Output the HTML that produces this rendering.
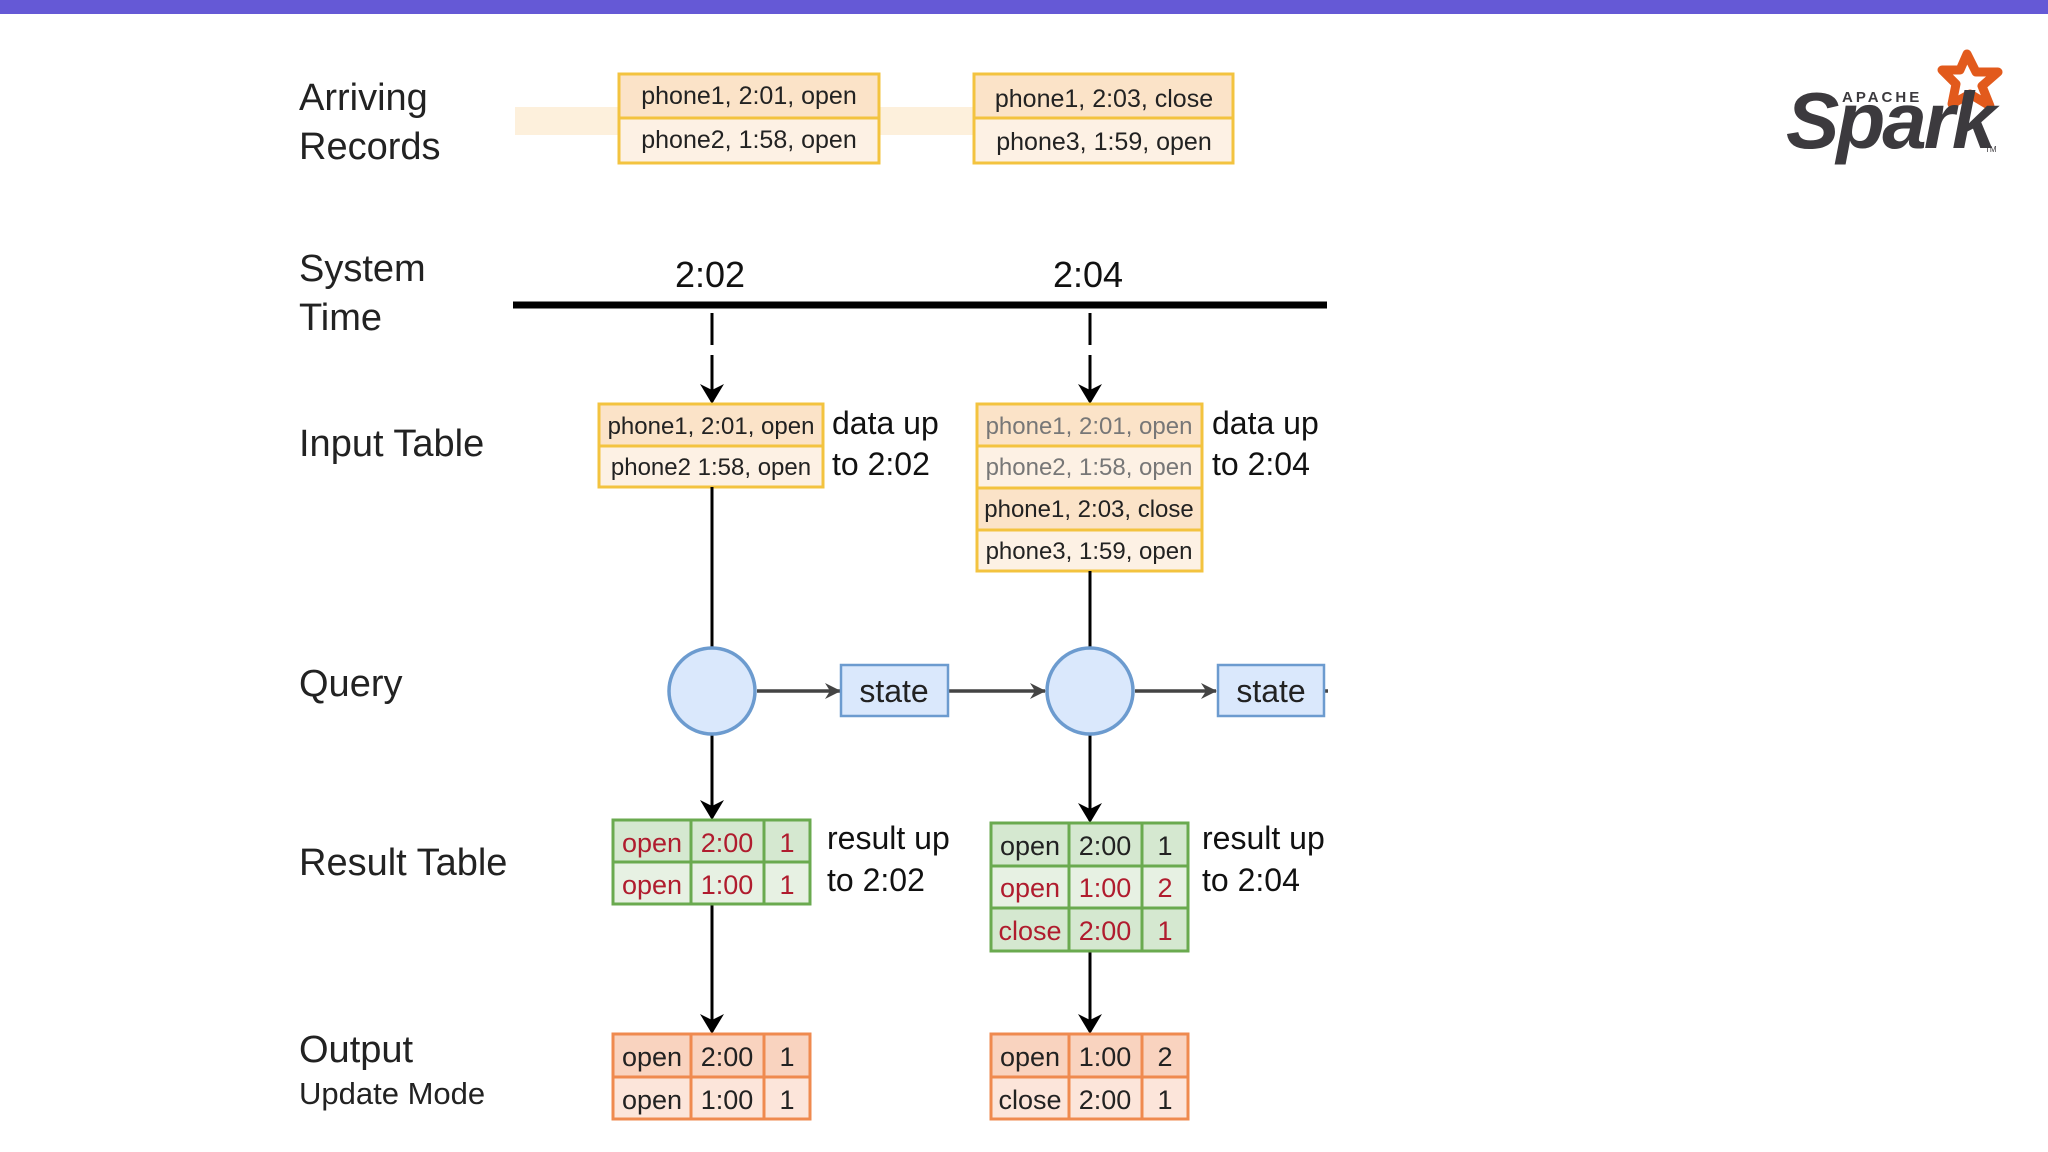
<!DOCTYPE html>
<html><head><meta charset="utf-8"><style>
html,body{margin:0;padding:0;background:#fff;}
svg{display:block}
text{font-family:"Liberation Sans",sans-serif;}
</style></head><body>
<svg width="2048" height="1152" viewBox="0 0 2048 1152" xmlns="http://www.w3.org/2000/svg">
<defs>
<marker id="ah" viewBox="0 0 20 24" refX="18" refY="12" markerWidth="20" markerHeight="24" markerUnits="userSpaceOnUse" orient="auto">
<path d="M0,0 L20,12 L0,24 L6,12 Z" fill="#000"/></marker>
<marker id="ag" viewBox="0 0 16 16" refX="15" refY="8" markerWidth="16" markerHeight="16" markerUnits="userSpaceOnUse" orient="auto">
<path d="M0,0 L16,8 L0,16 L5,8 Z" fill="#444"/></marker>
</defs>
<rect x="0" y="0" width="2048" height="14" fill="#6559d6"/>

<!-- labels -->
<g font-size="38" fill="#222">
<text x="299" y="110">Arriving</text>
<text x="299" y="159">Records</text>
<text x="299" y="281">System</text>
<text x="299" y="330">Time</text>
<text x="299" y="456">Input Table</text>
<text x="299" y="696">Query</text>
<text x="299" y="875">Result Table</text>
<text x="299" y="1062">Output</text>
</g>
<text x="299" y="1104" font-size="31" fill="#222">Update Mode</text>

<!-- arriving records -->
<rect x="515" y="107" width="104" height="28" fill="#fdf0dc"/>
<rect x="879" y="107" width="95" height="28" fill="#fdf0dc"/>
<g stroke="#f3c33f" stroke-width="3">
<rect x="619" y="74" width="260" height="44" fill="#fbe3c8"/>
<rect x="619" y="118" width="260" height="45" fill="#fdf1e4"/>
<rect x="974" y="74" width="259" height="44" fill="#fbe3c8"/>
<rect x="974" y="118" width="259" height="45" fill="#fdf1e4"/>
</g>
<g font-size="25" fill="#222" text-anchor="middle">
<text x="749" y="104">phone1, 2:01, open</text>
<text x="749" y="148">phone2, 1:58, open</text>
<text x="1104" y="107">phone1, 2:03, close</text>
<text x="1104" y="150">phone3, 1:59, open</text>
</g>

<!-- system time -->
<g font-size="36" fill="#111" text-anchor="middle">
<text x="710" y="287">2:02</text>
<text x="1088" y="287">2:04</text>
</g>
<line x1="513" y1="305" x2="1327" y2="305" stroke="#000" stroke-width="7"/>
<g stroke="#000" stroke-width="3">
<line x1="712" y1="313" x2="712" y2="345"/>
<line x1="712" y1="355" x2="712" y2="402" marker-end="url(#ah)"/>
<line x1="1090" y1="313" x2="1090" y2="345"/>
<line x1="1090" y1="355" x2="1090" y2="402" marker-end="url(#ah)"/>
</g>

<!-- input tables -->
<g stroke="#f3c33f" stroke-width="3">
<rect x="599" y="404" width="224" height="42" fill="#fbe3c8"/>
<rect x="599" y="446" width="224" height="41" fill="#fdf1e4"/>
<rect x="977" y="404" width="225" height="42" fill="#fbe3c8"/>
<rect x="977" y="446" width="225" height="42" fill="#fdf1e4"/>
<rect x="977" y="488" width="225" height="42" fill="#fbe3c8"/>
<rect x="977" y="530" width="225" height="41" fill="#fdf1e4"/>
</g>
<g font-size="24" text-anchor="middle">
<text x="711" y="434" fill="#222">phone1, 2:01, open</text>
<text x="711" y="475" fill="#222">phone2 1:58, open</text>
<text x="1089" y="434" fill="#777">phone1, 2:01, open</text>
<text x="1089" y="475" fill="#777">phone2, 1:58, open</text>
<text x="1089" y="517" fill="#222">phone1, 2:03, close</text>
<text x="1089" y="559" fill="#222">phone3, 1:59, open</text>
</g>
<g font-size="32" fill="#111">
<text x="832" y="434">data up</text>
<text x="832" y="475">to 2:02</text>
<text x="1212" y="434">data up</text>
<text x="1212" y="475">to 2:04</text>
<text x="827" y="849">result up</text>
<text x="827" y="891">to 2:02</text>
<text x="1202" y="849">result up</text>
<text x="1202" y="891">to 2:04</text>
</g>

<!-- query -->
<g stroke="#000" stroke-width="3">
<line x1="712" y1="487" x2="712" y2="648"/>
<line x1="1090" y1="571" x2="1090" y2="648"/>
<line x1="712" y1="734" x2="712" y2="818" marker-end="url(#ah)"/>
<line x1="1090" y1="734" x2="1090" y2="821" marker-end="url(#ah)"/>
<line x1="712" y1="904" x2="712" y2="1032" marker-end="url(#ah)"/>
<line x1="1090" y1="951" x2="1090" y2="1032" marker-end="url(#ah)"/>
</g>
<g fill="#dae8fc" stroke="#6c9bcf" stroke-width="3.5">
<ellipse cx="712" cy="691" rx="43" ry="43"/>
<ellipse cx="1090" cy="691" rx="43" ry="43"/>
</g>
<g stroke="#444" stroke-width="3.5">
<line x1="757" y1="691" x2="840" y2="691" marker-end="url(#ag)"/>
<line x1="949" y1="691" x2="1045" y2="691" marker-end="url(#ag)"/>
<line x1="1135" y1="691" x2="1216" y2="691" marker-end="url(#ag)"/>
<line x1="1325" y1="691" x2="1328" y2="691"/>
</g>
<g fill="#dae8fc" stroke="#6c9bcf" stroke-width="2.5">
<rect x="841" y="665" width="107" height="51"/>
<rect x="1218" y="665" width="106" height="51"/>
</g>
<g font-size="32" fill="#222" text-anchor="middle">
<text x="894" y="702">state</text>
<text x="1271" y="702">state</text>
</g>

<!-- result tables -->
<g stroke="#6aaa4f" stroke-width="3">
<rect x="613" y="820" width="197" height="42" fill="#d5e8d0"/>
<rect x="613" y="862" width="197" height="42" fill="#e7f1e3"/>
<line x1="691" y1="820" x2="691" y2="904"/><line x1="764" y1="820" x2="764" y2="904"/>
<rect x="991" y="823" width="197" height="43" fill="#d5e8d0"/>
<rect x="991" y="866" width="197" height="42" fill="#e7f1e3"/>
<rect x="991" y="908" width="197" height="43" fill="#d5e8d0"/>
<line x1="1069" y1="823" x2="1069" y2="951"/><line x1="1142" y1="823" x2="1142" y2="951"/>
</g>
<g font-size="27" text-anchor="middle" fill="#b01c2e">
<text x="652" y="852">open</text><text x="727" y="852">2:00</text><text x="787" y="852">1</text>
<text x="652" y="894">open</text><text x="727" y="894">1:00</text><text x="787" y="894">1</text>
<text x="1030" y="897">open</text><text x="1105" y="897">1:00</text><text x="1165" y="897">2</text>
<text x="1030" y="940">close</text><text x="1105" y="940">2:00</text><text x="1165" y="940">1</text>
</g>
<g font-size="27" text-anchor="middle" fill="#222">
<text x="1030" y="855">open</text><text x="1105" y="855">2:00</text><text x="1165" y="855">1</text>
</g>

<!-- output tables -->
<g stroke="#ef8a4f" stroke-width="3">
<rect x="613" y="1034" width="197" height="43" fill="#f9d3bf"/>
<rect x="613" y="1077" width="197" height="42" fill="#fce5da"/>
<line x1="691" y1="1034" x2="691" y2="1119"/><line x1="764" y1="1034" x2="764" y2="1119"/>
<rect x="991" y="1034" width="197" height="43" fill="#f9d3bf"/>
<rect x="991" y="1077" width="197" height="42" fill="#fce5da"/>
<line x1="1069" y1="1034" x2="1069" y2="1119"/><line x1="1142" y1="1034" x2="1142" y2="1119"/>
</g>
<g font-size="27" text-anchor="middle" fill="#222">
<text x="652" y="1066">open</text><text x="727" y="1066">2:00</text><text x="787" y="1066">1</text>
<text x="652" y="1109">open</text><text x="727" y="1109">1:00</text><text x="787" y="1109">1</text>
<text x="1030" y="1066">open</text><text x="1105" y="1066">1:00</text><text x="1165" y="1066">2</text>
<text x="1030" y="1109">close</text><text x="1105" y="1109">2:00</text><text x="1165" y="1109">1</text>
</g>

<!-- spark logo -->
<path d="M1967,54 L1976,72 L1998,72 L1982,86 L1990,106 L1970,94 L1952,104 L1956,84 L1942,70 L1960,70 Z" fill="none" stroke="#e25a1c" stroke-width="9" stroke-linejoin="round"/>
<text x="1842" y="102" font-size="15" font-weight="bold" fill="#3c3a3e" letter-spacing="3">APACHE</text>
<text x="1786" y="148" font-size="80" font-weight="bold" font-style="italic" fill="#3c3a3e" letter-spacing="-3">Spark</text>
<text x="1985" y="152" font-size="8" fill="#3c3a3e">TM</text>
</svg>
</body></html>
